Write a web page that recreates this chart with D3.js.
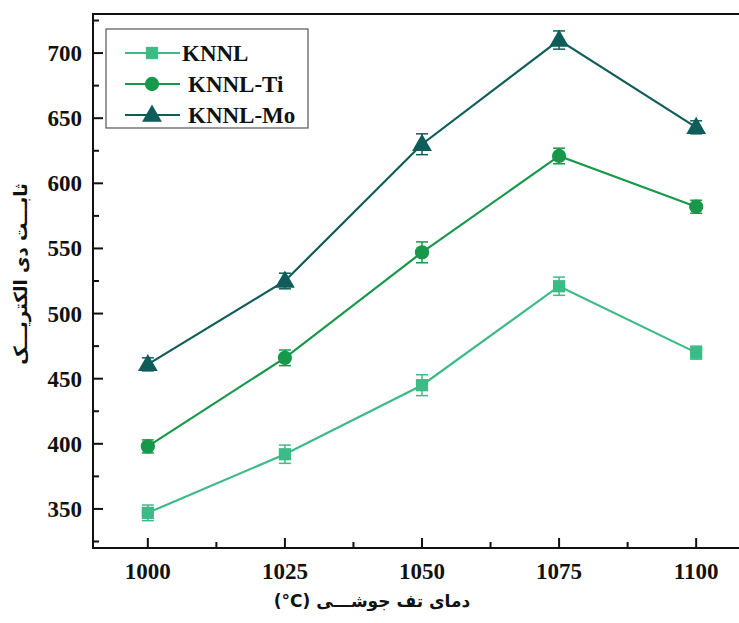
<!DOCTYPE html>
<html>
<head>
<meta charset="utf-8">
<script src="https://cdn.jsdelivr.net/npm/d3@7"></script>
<style>
  body { margin: 0; background: #fff; }
  svg { display: block; }
</style>
</head>
<body>
<svg id="chart" width="739" height="623"></svg>
<script>
// temperatures (°C)
var temps = [1000, 1025, 1050, 1075, 1100];
var seriesNames = ['KNNL', 'KNNL-Ti', 'KNNL-Mo'];
var knnl = [347, 392, 445, 521, 470];
var knnlTi = [398, 466, 547, 621, 582];
var knnlMo = [461, 525, 630, 710, 643];
var knnlErr = [6, 7, 8, 7, 5];
var knnlTiErr = [5, 6, 8, 6, 5];
var knnlMoErr = [5, 6, 8, 7, 5];
var xTicks = [1000, 1025, 1050, 1075, 1100];
var yTicks = [350, 400, 450, 500, 550, 600, 650, 700];

var colors = ['#3dbb87', '#17984a', '#0e5d5a'];
var symbols = [d3.symbolSquare, d3.symbolCircle, d3.symbolTriangle];
var symSizes = [150, 160, 170];

var series = [
    {name: seriesNames[0], values: knnl, err: knnlErr},
    {name: seriesNames[1], values: knnlTi, err: knnlTiErr},
    {name: seriesNames[2], values: knnlMo, err: knnlMoErr}
];

var svg = d3.select('#chart');
var plot = {left: 93, top: 14, right: 751, bottom: 548};

var x = d3.scaleLinear().domain([990, 1110]).range([plot.left, plot.right]);
var y = d3.scaleLinear().domain([320, 730]).range([plot.bottom, plot.top]);

var numFont = '"Liberation Serif", "Times New Roman", serif';
var faFont = '"DejaVu Sans", sans-serif';

// frame
var g = svg.append('g');
g.append('rect')
    .attr('x', plot.left).attr('y', plot.top)
    .attr('width', plot.right - plot.left).attr('height', plot.bottom - plot.top)
    .attr('fill', 'none').attr('stroke', '#111').attr('stroke-width', 2);

// x axis ticks (inward)
var xMinor = d3.range(1012.5, 1110, 25);
xTicks.forEach(function (t) {
    g.append('line').attr('x1', x(t)).attr('x2', x(t))
        .attr('y1', plot.bottom).attr('y2', plot.bottom - 10)
        .attr('stroke', '#111').attr('stroke-width', 2);
    g.append('text').attr('x', x(t)).attr('y', 579)
        .attr('text-anchor', 'middle')
        .attr('font-family', numFont).attr('font-weight', 'bold').attr('font-size', 23)
        .attr('fill', '#111').text(t);
});
xMinor.forEach(function (t) {
    g.append('line').attr('x1', x(t)).attr('x2', x(t))
        .attr('y1', plot.bottom).attr('y2', plot.bottom - 6)
        .attr('stroke', '#111').attr('stroke-width', 2);
});

// y axis ticks (inward)
var yMinor = d3.range(325, 730, 50);
yTicks.forEach(function (t) {
    g.append('line').attr('x1', plot.left).attr('x2', plot.left + 10)
        .attr('y1', y(t)).attr('y2', y(t))
        .attr('stroke', '#111').attr('stroke-width', 2);
    g.append('text').attr('x', plot.left - 11).attr('y', y(t))
        .attr('dy', '0.35em')
        .attr('text-anchor', 'end')
        .attr('font-family', numFont).attr('font-weight', 'bold').attr('font-size', 23)
        .attr('fill', '#111').text(t);
});
yMinor.forEach(function (t) {
    g.append('line').attr('x1', plot.left).attr('x2', plot.left + 6)
        .attr('y1', y(t)).attr('y2', y(t))
        .attr('stroke', '#111').attr('stroke-width', 2);
});

// axis titles
svg.append('text')
    .attr('x', 372).attr('y', 607)
    .attr('text-anchor', 'middle')
    .attr('direction', 'rtl')
    .attr('font-family', faFont).attr('font-weight', 'bold').attr('font-size', 17)
    .attr('fill', '#111')
    .text('دمای تف جوشـــی (\u200E°C)');

svg.append('text')
    .attr('transform', 'translate(27,274) rotate(-90)')
    .attr('text-anchor', 'middle')
    .attr('direction', 'rtl')
    .attr('font-family', faFont).attr('font-weight', 'bold').attr('font-size', 18)
    .attr('fill', '#111')
    .text('ثابـــت دی الکتریـــک');

// lines, error bars, markers
var line = d3.line()
    .x(function (d, i) { return x(temps[i]); })
    .y(function (d) { return y(d); });

series.forEach(function (s, k) {
    var sg = svg.append('g');
    sg.append('path')
        .attr('d', line(s.values))
        .attr('fill', 'none')
        .attr('stroke', colors[k])
        .attr('stroke-width', 2.2);

    s.values.forEach(function (v, i) {
        var cx = x(temps[i]);
        var y0 = y(v - s.err[i]), y1 = y(v + s.err[i]);
        sg.append('line').attr('x1', cx).attr('x2', cx).attr('y1', y0).attr('y2', y1)
            .attr('stroke', colors[k]).attr('stroke-width', 1.5);
        [y0, y1].forEach(function (yy) {
            sg.append('line').attr('x1', cx - 6).attr('x2', cx + 6).attr('y1', yy).attr('y2', yy)
                .attr('stroke', colors[k]).attr('stroke-width', 1.5);
        });
        sg.append('path')
            .attr('d', d3.symbol().type(symbols[k]).size(symSizes[k])())
            .attr('transform', 'translate(' + cx + ',' + (y(v) + (k === 2 ? 1 : 0)) + ')')
            .attr('fill', colors[k]);
    });
});

// legend
var lg = svg.append('g');
lg.append('rect')
    .attr('x', 106).attr('y', 29).attr('width', 202).attr('height', 99)
    .attr('fill', '#fff').attr('stroke', '#555').attr('stroke-width', 1.2);
var legY = [53, 84, 115];
var legX = [182, 188, 188];
series.forEach(function (s, k) {
    lg.append('line').attr('x1', 125).attr('x2', 180)
        .attr('y1', legY[k]).attr('y2', legY[k])
        .attr('stroke', colors[k]).attr('stroke-width', 2.2);
    lg.append('path')
        .attr('d', d3.symbol().type(symbols[k]).size(symSizes[k])())
        .attr('transform', 'translate(152,' + (legY[k] + (k === 2 ? 1 : 0)) + ')')
        .attr('fill', colors[k]);
    lg.append('text')
        .attr('x', legX[k]).attr('y', legY[k]).attr('dy', '0.35em')
        .attr('font-family', numFont).attr('font-weight', 'bold').attr('font-size', 23)
        .attr('fill', '#111').text(s.name);
});
</script>
</body>
</html>
